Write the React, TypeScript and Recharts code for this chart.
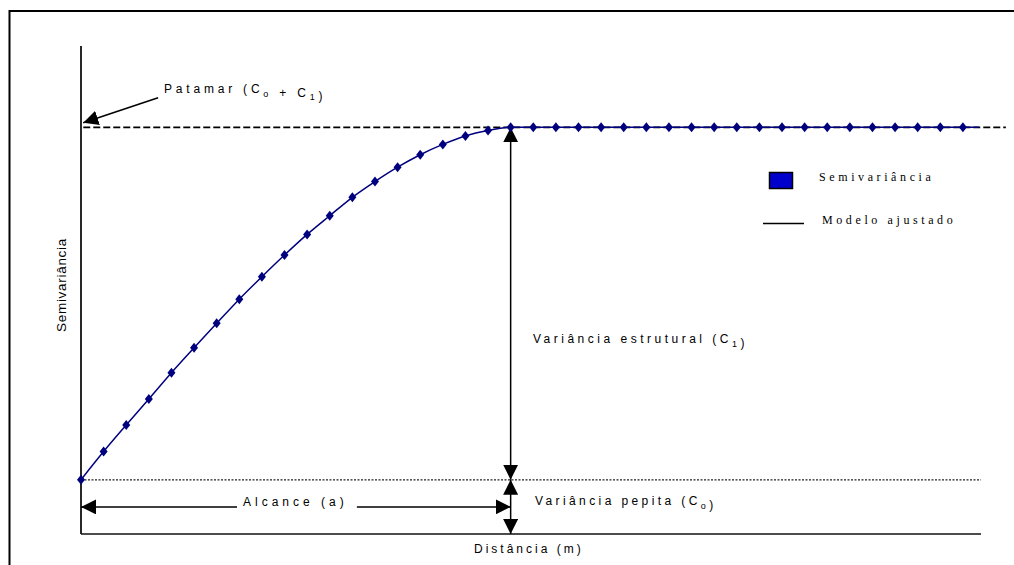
import React from "react";
import { ComposedChart, Line, Scatter, XAxis, YAxis, ReferenceLine } from "recharts";

// classes de distância (lag) e semivariância experimental
const lags = [
  0, 1, 2, 3, 4, 5, 6, 7, 8, 9, 10, 11, 12, 13, 14, 15, 16, 17, 18, 19,
  20, 21, 22, 23, 24, 25, 26, 27, 28, 29, 30, 31, 32, 33, 34, 35, 36, 37, 38, 39,
];
const gamma = [
  2.0, 3.04, 4.02, 4.98, 5.95, 6.87, 7.77, 8.66, 9.49, 10.29,
  11.05, 11.74, 12.42, 13.0, 13.53, 13.99, 14.37, 14.68, 14.88, 15.0,
  15.0, 15.0, 15.0, 15.0, 15.0, 15.0, 15.0, 15.0, 15.0, 15.0,
  15.0, 15.0, 15.0, 15.0, 15.0, 15.0, 15.0, 15.0, 15.0, 15.0,
];

// parâmetros do modelo
const nugget = 2; // C0
const sill = 15; // C0 + C1
const range = 19; // a
const modelEnd = 39.7;
const xMax = 39.8;
const yMax = 18;

const points = lags.map((lag, i) => ({ lag, gamma: gamma[i] }));
const modelData = [...points.map((p) => ({ lag: p.lag, model: p.gamma })), { lag: modelEnd, model: sill }];

const W = 1014;
const H = 565;
const NAVY = "#00007f";
const sans = "'Liberation Sans', Arial, sans-serif";
const serif = "'Liberation Serif', 'Times New Roman', serif";

const Diamond = (p: any) => (
  <path
    d={`M${p.cx},${p.cy - 5} L${p.cx + 4},${p.cy} L${p.cx},${p.cy + 5} L${p.cx - 4},${p.cy} Z`}
    fill={NAVY}
  />
);

const arrow = (start: boolean, end: boolean) => (p: any) => (
  <line
    x1={p.x1} y1={p.y1} x2={p.x2} y2={p.y2}
    stroke="#000" strokeWidth={1.5}
    markerStart={start ? "url(#ah)" : undefined}
    markerEnd={end ? "url(#ah)" : undefined}
  />
);

const Sub = ({ children }: { children: React.ReactNode }) => (
  <>
    <tspan fontSize={9} dy={3.5}>{children}</tspan>
    <tspan dy={-3.5}></tspan>
  </>
);

export default function App() {
  return (
    <div style={{ position: "fixed", left: 0, top: 0, width: W, height: H, overflow: "hidden", background: "#fff" }}>
      <ComposedChart width={W} height={H} margin={{ top: 46, right: 33, bottom: 31, left: 81 }}>
        <XAxis type="number" dataKey="lag" domain={[0, xMax]} hide />
        <YAxis type="number" domain={[0, yMax]} hide />
        {/* eixos */}
        <ReferenceLine segment={[{ x: 0, y: 0 }, { x: 0, y: yMax }]} ifOverflow="visible" stroke="#111" strokeWidth={1.8} />
        <ReferenceLine segment={[{ x: 0, y: 0 }, { x: xMax, y: 0 }]} ifOverflow="visible" stroke="#111" strokeWidth={1.6} />
        <ReferenceLine y={nugget} stroke="#222" strokeWidth={1.3} strokeDasharray="2 1.5" />
        <ReferenceLine
          segment={[{ x: 0.1, y: sill }, { x: 40.9, y: sill }]} ifOverflow="visible"
          stroke="#000" strokeWidth={1.7} strokeDasharray="7 3"
        />
        <Line
          data={modelData} dataKey="model" type="monotone" stroke={NAVY} strokeWidth={1.5}
          dot={false} activeDot={false} isAnimationActive={false}
        />
        <Scatter data={points} dataKey="gamma" shape={Diamond} isAnimationActive={false} />
        {/* seta do patamar */}
        <ReferenceLine
          segment={[{ x: 3.41, y: 16.09 }, { x: 0.1, y: 15.17 }]} ifOverflow="visible"
          shape={arrow(false, true)}
        />
        {/* variância estrutural e pepita */}
        <ReferenceLine segment={[{ x: range, y: sill }, { x: range, y: nugget }]} ifOverflow="visible" shape={arrow(true, true)} />
        <ReferenceLine segment={[{ x: range, y: nugget }, { x: range, y: 0 }]} ifOverflow="visible" shape={arrow(true, true)} />
        {/* alcance */}
        <ReferenceLine segment={[{ x: 0, y: 1 }, { x: 6.9, y: 1 }]} ifOverflow="visible" shape={arrow(true, false)} />
        <ReferenceLine segment={[{ x: 12.2, y: 1 }, { x: range, y: 1 }]} ifOverflow="visible" shape={arrow(false, true)} />
      </ComposedChart>

      <svg width={W} height={H} style={{ position: "absolute", left: 0, top: 0, pointerEvents: "none" }}>
        <defs>
          <marker
            id="ah" viewBox="0 0 15 15" refX={15} refY={7.5} markerWidth={15} markerHeight={15}
            markerUnits="userSpaceOnUse" orient="auto-start-reverse"
          >
            <path d="M0,0 L15,7.5 L0,15 Z" fill="#000" />
          </marker>
        </defs>

        {/* moldura */}
        <line x1={9.5} y1={11} x2={W} y2={11} stroke="#000" strokeWidth={2} />
        <line x1={9.5} y1={10} x2={9.5} y2={H} stroke="#000" strokeWidth={2} />

        <g fontFamily={sans} fontSize={12} fill="#000">
          <text x={164} y={93} letterSpacing={3.8}>
            Patamar (C<Sub>o</Sub> + C<Sub>1</Sub>)
          </text>
          <text x={533} y={343} letterSpacing={3.5}>
            Variância estrutural (C<Sub>1</Sub>)
          </text>
          <text x={535} y={505} letterSpacing={3.4}>
            Variância pepita (C<Sub>o</Sub>)
          </text>
          <text x={243} y={506} letterSpacing={4}>Alcance (a)</text>
          <text x={474} y={553} letterSpacing={3}>Distância (m)</text>
          <text
            x={0} y={0} fontSize={13.5} letterSpacing={0.7} textAnchor="middle"
            transform="translate(66 285) rotate(-90)"
          >
            Semivariância
          </text>
        </g>

        {/* legenda */}
        <rect x={769.5} y={172.5} width={23} height={16} fill="#0000cc" stroke="#000" strokeWidth={1.5} />
        <line x1={763} y1={223.5} x2={804} y2={223.5} stroke="#000" strokeWidth={1.5} />
        <g fontFamily={serif} fontSize={12} fill="#000" letterSpacing={3.6}>
          <text x={819} y={181}>Semivariância</text>
          <text x={822} y={224}>Modelo ajustado</text>
        </g>
      </svg>
    </div>
  );
}
